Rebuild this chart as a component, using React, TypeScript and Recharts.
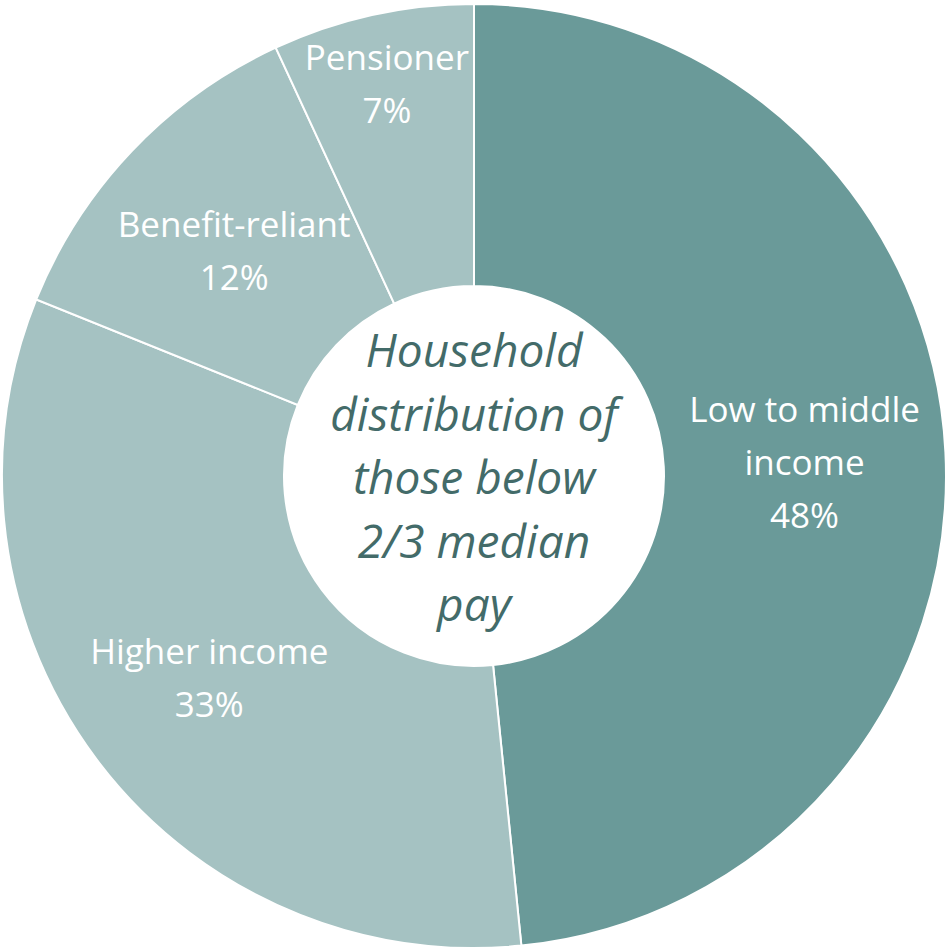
import { PieChart, Pie, Cell, Label } from "recharts";

// === Dados ===
const categories = ["Low to middle income", "Higher income", "Benefit-reliant", "Pensioner"];
const shares = [48.4, 32.7, 12.0, 6.9];
const centerLines = ["Household", "distribution of", "those below", "2/3 median", "pay"];

const COLORS = ["#6A9A99", "#A5C2C2", "#A5C2C2", "#A5C2C2"];
const FONT = "'Open Sans', Lato, sans-serif";
const CX = 474;
const CY = 476;
const RAD = Math.PI / 180;

const data = categories.map((name, i) => ({ name, value: shares[i] }));

// quebra simples de linha, como no Excel
const wrap = (text: string, max = 14) => {
  const words = text.split(" ");
  const lines: string[] = [];
  let cur = "";
  words.forEach((w) => {
    if (cur && (cur + " " + w).length > max) {
      lines.push(cur);
      cur = w;
    } else {
      cur = cur ? cur + " " + w : w;
    }
  });
  if (cur) lines.push(cur);
  return lines;
};

const renderSliceLabel = (props: any) => {
  const { cx, cy, midAngle, innerRadius, outerRadius, index, name, value } = props;
  // fatia pequena (Pensioner) fica mais para fora
  const r = index === 3 ? 405 : (innerRadius + outerRadius) / 2;
  const x = cx + r * Math.cos(-midAngle * RAD);
  const y = cy + r * Math.sin(-midAngle * RAD) + 2;
  const lines = [...wrap(name), `${Math.round(value)}%`];
  const step = 53;
  const top = y - ((lines.length - 1) * step) / 2;
  return (
    <text
      key={`lbl-${index}`}
      x={x}
      y={top}
      fill="#ffffff"
      textAnchor="middle"
      dominantBaseline="central"
      style={{ fontFamily: FONT, fontSize: 35 }}
    >
      {lines.map((l, i) => (
        <tspan key={i} x={x} y={top + i * step} dominantBaseline="central">
          {l}
        </tspan>
      ))}
    </text>
  );
};

const CenterText = () => {
  const step = 63.5;
  const top = CY - ((centerLines.length - 1) * step) / 2;
  return (
    <text
      x={CX}
      y={top}
      fill="#436B69"
      textAnchor="middle"
      dominantBaseline="central"
      style={{ fontFamily: FONT, fontSize: 46, fontStyle: "italic" }}
    >
      {centerLines.map((l, i) => (
        <tspan key={i} x={CX} y={top + i * step} dominantBaseline="central">
          {l}
        </tspan>
      ))}
    </text>
  );
};

export default function App() {
  return (
    <div style={{ position: "absolute", left: 0, top: 0, width: 947, height: 952, background: "#fff" }}>
      <PieChart width={947} height={952} margin={{ top: 0, right: 0, bottom: 0, left: 0 }}>
        <Pie
          data={data}
          dataKey="value"
          nameKey="name"
          cx={CX}
          cy={CY}
          innerRadius={190}
          outerRadius={472}
          startAngle={90}
          endAngle={-270}
          stroke="#ffffff"
          strokeWidth={2}
          label={renderSliceLabel}
          labelLine={false}
          isAnimationActive={false}
        >
          {data.map((d, i) => (
            <Cell key={`cell-${i}`} fill={COLORS[i]} />
          ))}
          <Label position="center" content={() => <CenterText />} />
        </Pie>
      </PieChart>
    </div>
  );
}
